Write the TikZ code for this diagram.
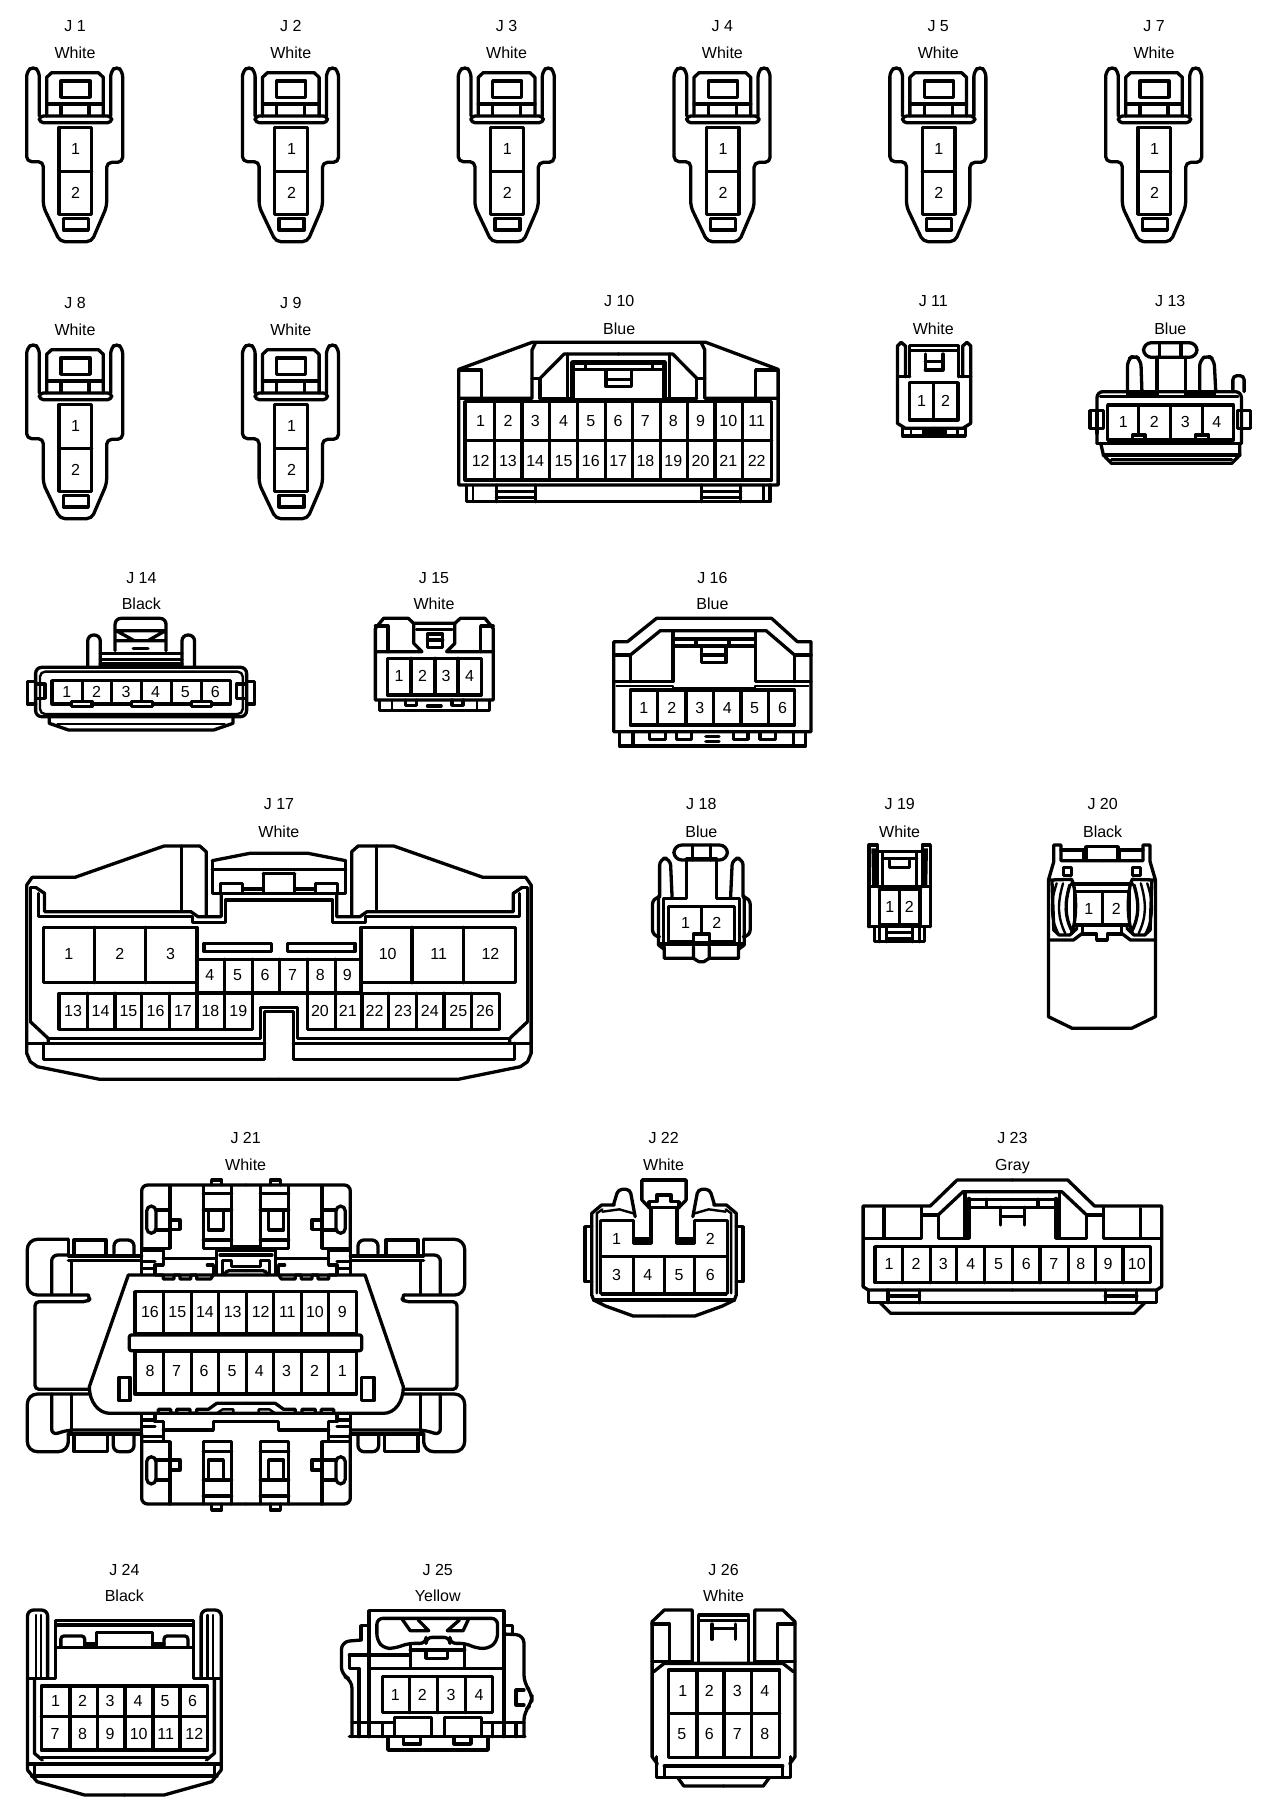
\documentclass[tikz,border=0pt]{standalone}
\usepackage{fontspec}
\setmainfont{Liberation Sans}
\newcommand{\lblfont}{\fontsize{16}{18}\selectfont}
\tikzset{
  ln/.style={draw=black,line width=3.3pt,line join=round,line cap=round},
  th/.style={draw=black,line width=2.4pt,line join=round,line cap=round},
  hv/.style={draw=black,line width=4.5pt,line join=round},
  txt/.style={font=\lblfont,inner sep=0pt,text=black,text height=11.5pt,text depth=0pt},
  zoomed/.style n args={3}{shift={(#1,#2)},xscale=#3,yscale=0.33333}
}
% pin rectangle with vertical dividers
\newcommand{\pbox}[5]{\draw[ln] (#1,#2) rectangle (#3,#4);
  \foreach \vx in {#5}{\draw[ln] (\vx,#2) -- (\vx,#4);}}
% pin number nodes
\newcommand{\pins}[3]{\foreach \px/\pl in {#3}{\node[txt] (#1p\pl) at (\px,#2) {\pl};}}
% title and colour
\newcommand{\ttl}[6]{\node[txt] (#1t) at (#4,#5) {#2};\node[txt] (#1c) at (#4,#6) {#3};}
% draw content, then its mirror image around x=#1/2
\newcommand{\mir}[2]{#2\begin{scope}[shift={(#1,0)},xscale=-1]#2\end{scope}}
% the repeated two-way connector
\newcommand{\twoway}[4]{\begin{scope}[zoomed={#3}{#4}{0.33333}]
  \ttl{#1}{#2}{White}{225}{78}{157}
  \draw[ln,rounded corners=5pt] (118,348) -- (118,215) -- (100,198) -- (80,215) -- (80,485) -- (130,485) -- (130,620) -- (180,725) -- (275,725) -- (320,620) -- (320,487) -- (368,487) -- (368,215) -- (350,198) -- (332,215) -- (332,348);
  \draw[ln,rounded corners=4pt] (118,348) rectangle (335,368);
  \draw[ln] (140,348) -- (140,232) -- (155,218) -- (295,218) -- (310,232) -- (310,348);
  \draw[ln] (183,243) rectangle (270,292);
  \draw[ln] (140,312) -- (310,312) (183,312) -- (183,345) (267,312) -- (267,345);
  \draw[ln] (177,382) rectangle (275,643) (177,515) -- (275,515);
  \draw[ln] (190,655) rectangle (265,690);
  \node[txt] (#1p1) at (227,447) {1};
  \node[txt] (#1p2) at (227,578) {2};
\end{scope}}
\begin{document}
\begin{tikzpicture}[x=1pt,y=-1pt]
\useasboundingbox[fill=white] (0,0) rectangle (1280,1816);
\twoway{J1}{J 1}{0}{0}
\twoway{J2}{J 2}{215.8}{0}
\twoway{J3}{J 3}{431.6}{0}
\twoway{J4}{J 4}{647.4}{0}
\twoway{J5}{J 5}{863.2}{0}
\twoway{J7}{J 7}{1079}{0}
\twoway{J8}{J 8}{0}{277}
\twoway{J9}{J 9}{215.8}{277}
% ---- J10, J11, J13
\begin{scope}[zoomed={440}{280}{0.535}]
  \ttl{J10}{J 10}{Blue}{335}{62}{147}
  \draw[ln] (35,268) -- (172,187) -- (497,187) -- (632,268) -- (632,615) -- (35,615) -- cycle;
  \mir{667}{
    \draw[ln] (35,355) -- (172,355) -- (172,210) -- (178,190);
    \draw[ln] (187,355) -- (250,355);
    \draw[ln] (35,270) -- (77,270) -- (77,355);
    \draw[ln] (187,355) -- (187,295) -- (172,295);
    \draw[ln] (187,295) -- (232,222) -- (334,222);
    \draw[ln] (238,222) -- (238,350);
    \draw[ln] (50,615) -- (50,665) -- (334,665);
    \draw[th] (62,615) -- (62,665);
    \draw[ln] (105,615) -- (105,665) (178,615) -- (178,665);
    \draw[ln] (105,635) -- (178,635) (105,652) -- (178,652);
  }
  \draw[hv] (248,248) rectangle (420,360);
  \draw[ln] (248,268) -- (420,268) (272,248) -- (272,268) (397,248) -- (397,268);
  \draw[ln] (310,270) -- (310,320) -- (358,320) -- (358,270) (310,298) -- (358,298);
  \pbox{47}{365}{620}{600}{102,153,205,257,309,360,412,463,514,565}
  \draw[ln] (47,482) -- (620,482);
  \pins{J10}{423}{76/1,127/2,178/3,231/4,282/5,333/6,384/7,436/8,487/9,539/10,592/11}
  \pins{J10}{542}{76/12,127/13,178/14,231/15,282/16,333/17,384/18,436/19,487/20,539/21,592/22}
  %
  \ttl{J11}{J 11}{White}{922}{62}{147}
  \mir{1847}{
    \draw[ln] (855,430) -- (855,198) -- (862,187) -- (870,198) -- (870,290);
    \draw[ln] (855,290) -- (878,290);
    \draw[ln] (878,197) -- (924,197) (878,197) -- (878,290);
    \draw[th] (878,212) -- (924,212);
    \draw[ln] (855,430) -- (870,445) -- (924,445);
    \draw[ln] (865,445) -- (865,468) -- (924,468);
    \draw[th] (880,445) -- (880,468);
    \draw[hv] (900,456) -- (924,456);
  }
  \draw[ln] (907,222) -- (907,270) (940,222) -- (940,270) (907,245) -- (940,245) (907,270) -- (940,270);
  \pbox{878}{308}{968}{420}{922}
  \pins{J11}{362}{900/1,945/2}
  %
  \ttl{J13}{J 13}{Blue}{1365}{62}{147}
  \draw[ln,rounded corners=6pt] (1228,490) -- (1228,335) -- (1498,335) -- (1498,490);
  \draw[ln] (1228,490) -- (1498,490);
  \draw[th] (1234,350) -- (1492,350);
  \draw[ln,rounded corners=6pt] (1285,335) -- (1285,240) -- (1297,225) -- (1310,240) -- (1312,335);
  \draw[ln,rounded corners=6pt] (1420,335) -- (1420,240) -- (1435,225) -- (1447,240) -- (1450,335);
  \draw[ln,rounded corners=8pt] (1315,188) rectangle (1415,232);
  \draw[ln] (1345,188) -- (1345,232) (1385,188) -- (1385,232);
  \draw[ln] (1340,232) -- (1340,345) (1393,232) -- (1393,345);
  \draw[hv] (1282,345) -- (1338,345) (1395,345) -- (1450,345);
  \draw[ln,rounded corners=4pt] (1482,335) -- (1482,287) -- (1503,287) -- (1503,335);
  \draw[ln] (1215,392) rectangle (1240,445) (1490,392) rectangle (1515,445);
  \draw[ln] (1228,392) -- (1228,460) (1498,392) -- (1498,460);
  \pbox{1248}{375}{1483}{480}{1306,1366,1425}
  \draw[ln,fill=white] (1295,465) rectangle (1318,480) (1412,465) rectangle (1437,480);
  \pins{J13}{425}{1277/1,1335/2,1393/3,1452/4}
  \draw[ln] (1235,490) -- (1240,525) -- (1255,550) -- (1480,550) -- (1495,525) -- (1495,490);
  \draw[ln] (1240,525) -- (1495,525);
  \draw[th] (1255,538) -- (1480,538);
\end{scope}
% ---- J14, J15, J16
\begin{scope}[zoomed={0}{560}{0.548}]
  \ttl{J14}{J 14}{Black}{258}{52}{132}
  \draw[ln,rounded corners=6pt] (65,322) rectangle (450,470);
  \draw[th,rounded corners=5pt] (73,335) rectangle (443,462);
  \pbox{95}{362}{420}{432}{150,204,258,313,368}
  \pins{J14}{395}{122/1,176/2,230/3,284/4,338/5,393/6}
  \draw[ln,fill=white] (130,424) rectangle (168,440) (240,424) rectangle (278,440) (350,424) rectangle (386,440);
  \draw[ln] (65,365) -- (50,365) -- (50,432) -- (65,432) (65,372) rectangle (82,415);
  \draw[ln] (450,365) -- (465,365) -- (465,432) -- (450,432) (432,372) rectangle (450,415);
  \draw[ln] (90,470) -- (90,490) -- (125,510) -- (390,510) -- (425,490) -- (425,470);
  \draw[th] (105,492) -- (410,492);
  \draw[ln,rounded corners=6pt] (160,322) -- (160,225) -- (183,225) -- (183,322);
  \draw[ln,rounded corners=6pt] (332,322) -- (332,225) -- (355,225) -- (355,322);
  \draw[ln,rounded corners=6pt] (210,272) -- (210,175) -- (303,175) -- (303,272);
  \draw[ln] (212,212) -- (302,212) (212,212) -- (245,242) (302,212) -- (270,242) (212,242) -- (302,242);
  \draw[ln] (243,265) -- (270,265);
  \draw[ln] (183,280) -- (332,280);
  \draw[ln] (183,298) -- (332,298);
  \draw[ln] (183,312) -- (332,312);
  %
  \ttl{J15}{J 15}{White}{792}{52}{132}
  \draw[ln] (685,420) -- (685,205) -- (700,175) -- (745,175) -- (755,190) -- (830,190) -- (840,175) -- (885,175) -- (900,205) -- (900,420) -- cycle;
  \mir{1585}{
    \draw[ln] (685,198) -- (708,198) -- (708,275);
    \draw[ln] (685,275) -- (770,275) -- (755,250) -- (755,190);
    \draw[th] (715,420) -- (715,452);
  }
  \draw[ln] (760,208) -- (825,208);
  \draw[ln] (780,222) rectangle (808,262) (780,240) -- (808,240);
  \pbox{707}{295}{878}{405}{750,794,836}
  \pins{J15}{347}{728/1,771/2,814/3,857/4}
  \draw[ln] (693,420) -- (693,452) -- (893,452) -- (893,420);
  \draw[ln] (740,420) -- (740,436) -- (760,436) -- (760,420) (825,420) -- (825,436) -- (845,436) -- (845,420);
  \draw[ln] (780,438) -- (805,438);
  %
  \ttl{J16}{J 16}{Blue}{1300}{52}{132}
  \draw[ln] (1120,515) -- (1120,245) -- (1145,245) -- (1198,175) -- (1408,175) -- (1455,245) -- (1480,245) -- (1480,515) -- cycle;
  \draw[ln] (1148,288) -- (1205,212) -- (1398,212) -- (1452,288);
  \draw[ln] (1120,285) -- (1150,285) -- (1150,365) (1480,285) -- (1450,285) -- (1450,365);
  \draw[ln] (1120,365) -- (1228,365) -- (1228,212) (1480,365) -- (1378,365) -- (1378,212);
  \draw[th] (1125,378) -- (1228,378) -- (1228,385) -- (1378,385) -- (1378,378) -- (1475,378);
  \draw[ln] (1228,237) rectangle (1378,258);
  \draw[ln] (1270,237) -- (1270,258) (1330,237) -- (1330,258);
  \draw[ln] (1280,258) -- (1280,308) -- (1325,308) -- (1325,258) (1280,285) -- (1325,285);
  \pbox{1150}{390}{1450}{495}{1200,1252,1302,1352,1402}
  \pins{J16}{442}{1175/1,1226/2,1277/3,1327/4,1377/5,1428/6}
  \draw[ln] (1130,515) -- (1130,558) -- (1470,558) -- (1470,515);
  \draw[ln] (1155,515) -- (1155,558) (1448,515) -- (1448,558);
  \draw[ln] (1185,515) -- (1185,538) -- (1215,538) -- (1215,515) (1235,515) -- (1235,538) -- (1262,538) -- (1262,515) (1338,515) -- (1338,538) -- (1365,538) -- (1365,515) (1387,515) -- (1387,538) -- (1415,538) -- (1415,515);
  \draw[ln] (1288,530) -- (1312,530) (1288,545) -- (1312,545);
\end{scope}
% ---- J17
\begin{scope}[zoomed={0}{790}{0.3567}]
  \ttl{J17}{J 17}{White}{782}{40}{124}
  \mir{1564}{
    \draw[ln] (782,868) -- (280,868) -- (105,830) -- (85,815) -- (75,790) -- (75,285) -- (90,262) -- (210,262) -- (460,168) -- (560,168) -- (578,185) -- (578,378);
    \draw[ln] (508,168) -- (508,362);
    \draw[ln] (100,292) -- (125,310) -- (125,365) -- (535,365) -- (555,380) -- (620,380) -- (620,312);
    \draw[ln] (85,695) -- (85,292) -- (100,292);
    \draw[ln] (108,310) -- (108,380) -- (540,380) -- (540,398) -- (632,398) -- (632,330) -- (782,330);
    \draw[ln] (595,212) -- (700,190) -- (782,190);
    \draw[ln] (595,212) -- (595,310) -- (782,310);
    \draw[ln] (595,238) -- (782,238);
    \draw[ln] (738,250) -- (738,305) (738,250) -- (782,250);
    \draw[ln] (618,310) -- (618,280) -- (680,280) -- (680,305) (680,297) -- (738,297);
    \draw[ln] (85,695) -- (135,745) -- (135,760);
    \draw[ln] (135,745) -- (730,745) -- (730,652) -- (782,652);
    \draw[ln] (75,760) -- (742,760);
    \draw[ln] (742,665) -- (782,665) (742,665) -- (742,808) -- (122,808) -- (122,760);
  }
  \pbox{122}{412}{552}{578}{265,408}
  \pbox{1012}{412}{1445}{578}{1155,1300}
  \pins{J17}{492}{193/1,336/2,478/3,1087/10,1230/11,1375/12}
  \draw[ln] (572,460) rectangle (762,485) (805,460) rectangle (995,485);
  \pbox{552}{508}{1012}{608}{630,708,783,862,940}
  \pins{J17}{555}{588/4,666/5,743/6,820/7,898/8,974/9}
  \pbox{165}{610}{708}{718}{245,322,397,476,552,630}
  \pbox{862}{610}{1400}{718}{940,1015,1090,1168,1245,1322}
  \draw[ln] (708,610) -- (862,610);
  \pins{J17}{662}{205/13,282/14,360/15,436/16,513/17,590/18,668/19,897/20,975/21,1050/22,1130/23,1205/24,1285/25,1360/26}
\end{scope}
% ---- J18, J19, J20
\begin{scope}[zoomed={640}{790}{0.3567}]
  \ttl{J18}{J 18}{Blue}{172}{40}{124}
  \mir{344}{
    \draw[ln] (130,208) -- (130,325) -- (65,325) -- (65,470);
    \draw[ln,rounded corners=7pt] (90,322) -- (85,205) -- (55,205) -- (55,320);
    \draw[ln,rounded corners=7pt] (52,322) -- (35,322) -- (35,440) -- (52,440);
    \draw[ln] (52,318) -- (52,465) -- (68,478);
    \draw[ln] (68,470) -- (68,505) -- (150,505) (150,470) -- (150,505) -- (165,515) -- (172,515);
    \draw[ln] (52,462) -- (172,462);
  }
  \draw[ln,rounded corners=8pt] (95,165) rectangle (245,210);
  \draw[ln] (148,165) -- (148,210) (198,165) -- (198,210) (130,205) -- (215,205);
  \pbox{80}{350}{265}{455}{173}
  \pins{J18}{398}{128/1,215/2}
  \draw[ln,fill=white] (150,432) rectangle (195,458);
  %
  \ttl{J19}{J 19}{White}{728}{40}{124}
  \mir{1456}{
    \draw[ln] (642,410) -- (642,165) -- (665,165) -- (665,290);
    \draw[hv] (655,175) -- (657,290);
    \draw[ln] (642,290) -- (728,290);
    \draw[ln] (642,410) -- (728,410);
    \draw[ln] (665,185) -- (728,185) (680,205) -- (728,205) (680,185) -- (680,290);
    \draw[ln] (658,410) -- (658,455) -- (728,455);
    \draw[ln] (672,410) -- (672,455) (692,410) -- (692,455);
    \draw[ln] (692,428) -- (728,428) (692,445) -- (728,445);
  }
  \draw[ln] (700,212) -- (700,232) -- (755,232) -- (755,212);
  \pbox{672}{297}{785}{405}{728}
  \pins{J19}{350}{700/1,755/2}
  %
  \ttl{J20}{J 20}{Black}{1297}{40}{124}
  \mir{2590}{
    \draw[ln] (1295,715) -- (1212,715) -- (1145,680) -- (1145,270) -- (1160,215) -- (1160,165) -- (1180,165) -- (1180,212) -- (1295,212);
    \draw[ln] (1180,180) -- (1245,180) -- (1245,210);
    \draw[ln] (1250,210) -- (1250,170) -- (1295,170);
    \draw[ln] (1187,232) rectangle (1210,257);
    \draw[ln] (1210,282) -- (1295,282);
    \draw[ln] (1150,270) -- (1210,268) .. controls (1225,300) and (1225,390) .. (1210,430);
    \draw[th] (1168,280) .. controls (1150,340) and (1150,380) .. (1172,430);
    \draw[th] (1186,280) .. controls (1170,340) and (1170,380) .. (1192,430);
    \draw[ln] (1205,285) .. controls (1190,340) and (1190,380) .. (1212,425);
    \draw[ln] (1155,275) -- (1160,420) -- (1175,435) -- (1205,435) -- (1225,415);
    \draw[ln] (1145,450) -- (1215,450) -- (1240,430);
    \draw[ln] (1240,412) -- (1240,432) -- (1280,432) -- (1280,450) -- (1295,450);
  }
  \pbox{1218}{305}{1372}{405}{1296}
  \pins{J20}{355}{1258/1,1335/2}
\end{scope}
% ---- J21
\begin{scope}[zoomed={0}{1130}{0.33333}]
  \ttl{J21}{J 21}{White}{737}{22}{104}
  \mir{1476}{
    % top module
    \draw[ln,rounded corners=6pt] (738,165) -- (425,165) -- (425,355);
    \draw[ln] (425,355) -- (510,355) -- (510,168);
    \draw[ln,rounded corners=5pt] (440,228) rectangle (468,310);
    \draw[ln] (468,240) -- (510,240) (468,300) -- (510,300);
    \draw[ln] (510,270) -- (540,270) -- (540,298) -- (510,298);
    \draw[ln] (610,168) -- (610,355) -- (695,355) -- (695,168);
    \draw[ln] (610,190) -- (695,190) (610,240) -- (695,240) (610,330) -- (695,330);
    \draw[ln] (625,240) -- (625,300) -- (670,300) -- (670,240);
    \draw[ln] (635,165) -- (635,150) -- (665,150) -- (665,165);
    \draw[ln] (695,350) -- (738,350);
    % joins
    \draw[ln] (425,355) -- (425,435);
    \draw[ln] (430,362) -- (490,362) -- (490,405) -- (465,405) -- (465,435);
    \draw[ln] (428,395) -- (465,395) (428,415) -- (465,415);
    \draw[ln] (490,385) -- (650,385) -- (650,360) -- (738,360);
    \draw[ln] (650,385) -- (650,432);
    \draw[ln] (660,375) -- (738,375);
    \draw[ln] (668,432) -- (668,392) -- (695,392) -- (695,410) -- (738,410);
    \draw[ln] (622,405) -- (640,405) -- (640,432);
    % upper wing
    \draw[ln,rounded corners=10pt] (205,328) -- (82,328) -- (82,495) -- (265,495);
    \draw[ln,rounded corners=4pt] (265,495) -- (272,505) -- (262,515) -- (105,515) -- (105,778) -- (268,778);
    \draw[ln,rounded corners=6pt] (155,490) -- (155,375) -- (205,375);
    \draw[ln] (205,328) -- (205,378) -- (425,378);
    \draw[ln] (205,392) -- (425,392);
    \draw[ln] (215,392) -- (215,490);
    \draw[ln] (222,370) -- (222,330) -- (318,330) -- (318,370);
    \draw[ln,rounded corners=6pt] (342,370) -- (342,330) -- (402,330) -- (402,372);
    % lower wing
    \draw[ln,rounded corners=10pt] (268,792) -- (82,792) -- (82,965) -- (205,965) -- (205,912);
    \draw[ln] (222,915) -- (222,965) -- (322,965) -- (322,915);
    \draw[ln,rounded corners=6pt] (340,915) -- (340,965) -- (402,965) -- (402,915);
    \draw[ln,rounded corners=6pt] (155,792) -- (155,915) -- (205,900) -- (425,900);
    \draw[ln] (205,912) -- (425,912);
    \draw[ln] (215,792) -- (215,900);
    % bottom module
    \draw[ln,rounded corners=6pt] (425,915) -- (425,1122) -- (738,1122);
    \draw[ln] (425,935) -- (510,935) -- (510,1122);
    \draw[ln,rounded corners=5pt] (440,980) rectangle (468,1062);
    \draw[ln] (468,990) -- (510,990) (468,1050) -- (510,1050);
    \draw[ln] (510,990) -- (540,990) -- (540,1020) -- (510,1020);
    \draw[ln] (610,1122) -- (610,935) -- (695,935) -- (695,1122);
    \draw[ln] (610,965) -- (695,965) (610,1050) -- (695,1050) (610,1098) -- (695,1098);
    \draw[ln] (625,1050) -- (625,990) -- (670,990) -- (670,1050);
    \draw[ln] (635,1122) -- (635,1140) -- (665,1140) -- (665,1122);
    % bottom joins
    \draw[ln] (425,850) -- (425,915);
    \draw[ln] (490,875) -- (490,930) (428,920) -- (490,920);
    \draw[ln] (465,850) -- (465,875) -- (490,875);
    \draw[ln] (428,870) -- (465,870) (428,890) -- (465,890);
    \draw[ln] (490,900) -- (640,900) -- (640,875) -- (738,875);
  }
  \draw[ln,fill=white] (385,435) -- (1095,435) -- (1210,770) .. controls (1210,815) and (1185,850) .. (1150,850) -- (330,850) .. controls (295,850) and (268,815) .. (268,770) -- cycle;
  \mir{1476}{
    \draw[ln] (465,435) -- (490,435) -- (490,447) -- (522,447) -- (522,435) -- (540,435) -- (540,447) -- (572,447) -- (572,435) -- (590,435) -- (590,447) -- (632,447) -- (640,435);
    \draw[ln] (475,850) -- (475,838) -- (512,838) -- (512,850) -- (530,850) -- (530,838) -- (570,838) -- (570,850) -- (590,850) -- (590,838) -- (625,838) -- (650,820) -- (738,820);
    \draw[ln,rounded corners=4pt] (675,435) -- (675,422) -- (738,422);
    \draw[th] (650,850) -- (668,838) -- (700,838) -- (700,850) -- (738,850);
  }
  \pbox{405}{485}{1070}{612}{490,575,655,740,820,905,985}
  \pins{J21}{545}{450/16,532/15,615/14,698/13,782/12,862/11,945/10,1027/9}
  \draw[ln,rounded corners=2pt] (388,615) rectangle (1085,662);
  \pbox{405}{665}{1070}{792}{490,575,655,740,820,905,985}
  \pins{J21}{722}{450/8,530/7,612/6,696/5,778/4,860/3,944/2,1027/1}
  \draw[ln] (357,742) rectangle (390,812) (1085,742) rectangle (1122,812);
\end{scope}
% ---- J22, J23
\begin{scope}[zoomed={570}{1130}{0.395}]
  \ttl{J22}{J 22}{White}{237}{22}{104}
  \mir{476}{
    \draw[ln] (238,558) -- (160,558) -- (90,528) -- (60,510) -- (55,495) -- (55,250) -- (80,225) -- (112,225);
    \draw[th] (68,490) -- (68,250) -- (82,238);
    \draw[ln] (55,290) -- (38,290) -- (38,455) -- (55,455);
    \draw[ln,rounded corners=4pt] (110,225) -- (122,178) -- (152,178) -- (165,260);
    \draw[th] (82,245) -- (125,238) -- (160,250);
    \draw[hv] (182,150) -- (238,150);
    \draw[ln] (182,150) -- (182,210) -- (205,238);
    \draw[ln] (200,232) -- (200,215) -- (220,215) -- (220,195) -- (238,195);
    \draw[ln] (200,232) -- (238,232);
    \draw[ln] (160,272) -- (160,340) -- (205,340) -- (205,235);
    \draw[hv] (165,328) -- (205,328);
    \draw[ln] (80,272) -- (160,272);
    \draw[ln] (78,272) -- (78,490);
    \draw[ln] (60,510) -- (238,510);
    \draw[ln] (160,380) -- (160,490);
  }
  \draw[ln] (78,380) -- (398,380) (240,380) -- (240,490);
  \draw[hv] (78,492) -- (398,492);
  \pins{J22}{325}{118/1,355/2}
  \pins{J22}{433}{118/3,197/4,276/5,355/6}
  %
  \ttl{J23}{J 23}{Gray}{1120}{22}{104}
  \mir{2240}{
    \draw[ln] (1120,480) -- (755,480) -- (742,470) -- (742,228) -- (912,228) -- (980,150) -- (1120,150);
    \draw[ln] (795,235) -- (795,325);
    \draw[ln] (745,325) -- (890,325) -- (890,230);
    \draw[ln] (892,255) -- (930,255);
    \draw[ln] (932,255) -- (995,185) -- (1120,185);
    \draw[ln] (932,255) -- (932,325) -- (1010,325) -- (1010,205);
    \draw[ln] (1000,190) -- (1000,325);
    \draw[ln] (1010,208) -- (1120,208) (1010,232) -- (1120,232);
    \draw[ln] (1055,208) -- (1055,232);
    \draw[ln] (1090,232) -- (1090,285);
    \draw[ln] (755,480) -- (755,518) -- (1120,518);
    \draw[ln] (805,480) -- (805,518) (885,480) -- (885,518) (805,498) -- (885,498);
    \draw[ln] (785,518) -- (812,550) -- (1120,550);
  }
  \draw[ln] (1090,260) -- (1150,260);
  \pbox{772}{350}{1470}{458}{842,912,978,1050,1120,1190,1262,1330,1400}
  \pins{J23}{400}{808/1,876/2,945/3,1015/4,1085/5,1155/6,1225/7,1293/8,1362/9,1435/10}
\end{scope}
% ---- J24, J25, J26
\begin{scope}[zoomed={0}{1560}{0.5293}]
  \ttl{J24}{J 24}{Black}{235}{28}{108}
  \mir{470}{
    \draw[ln,rounded corners=6pt] (90,355) -- (90,150) -- (52,150) -- (52,630);
    \draw[ln] (52,630) -- (70,665) -- (160,705) -- (235,705);
    \draw[th] (68,165) -- (68,352) (78,165) -- (78,352);
    \draw[ln] (55,355) -- (105,355) -- (105,262) -- (235,262);
    \draw[ln] (105,182) -- (235,182) (105,195) -- (235,195) (105,182) -- (105,262);
    \draw[ln,rounded corners=3pt] (115,258) -- (115,228) -- (160,228) -- (160,258);
    \draw[ln] (160,252) -- (182,252) (182,258) -- (182,218) -- (235,218);
    \draw[ln] (65,360) -- (65,580) -- (80,600);
    \draw[ln] (52,612) -- (235,612) (60,648) -- (235,648) (65,612) -- (65,648);
    \draw[ln] (78,592) -- (235,592);
  }
  \pbox{78}{378}{392}{570}{132,184,236,289,340}
  \draw[ln] (78,470) -- (392,470);
  \pins{J24}{423}{105/1,156/2,208/3,261/4,312/5,364/6}
  \pins{J24}{520}{104/7,156/8,208/9,262/10,313/11,367/12}
  %
  \ttl{J25}{J 25}{Yellow}{827}{28}{108}
  \draw[ln] (697,325) -- (697,152) -- (952,152) -- (952,530);
  \draw[ln,rounded corners=6pt] (725,265) -- (712,240) -- (712,175) -- (940,175) -- (940,240) -- (925,265) -- (900,265) -- (880,250) -- (850,250) -- (850,232) -- (805,232) -- (805,250) -- (772,250) -- (745,265) -- cycle;
  \draw[ln] (760,178) -- (775,212) -- (810,212) (790,180) -- (810,212);
  \draw[ln] (885,178) -- (875,212) -- (845,212) (868,180) -- (845,212);
  \draw[ln] (775,252) -- (775,325) (878,252) -- (878,325) (775,270) -- (878,270);
  \draw[ln] (805,270) -- (805,295) -- (845,295) -- (845,270);
  \draw[ln] (697,197) -- (682,197) -- (682,240);
  \draw[ln,rounded corners=8pt] (682,240) -- (645,245) -- (645,345) -- (665,360) -- (665,530);
  \draw[ln] (660,285) -- (775,285) (660,285) -- (660,325) -- (678,325) -- (678,530);
  \draw[ln] (697,325) -- (952,325) (697,325) -- (697,488);
  \draw[ln] (665,488) -- (745,488) (910,488) -- (990,488);
  \draw[ln] (952,197) -- (968,197) -- (968,222);
  \draw[ln,rounded corners=8pt] (952,222) -- (990,225) -- (990,370) -- (1005,400) -- (1005,430) -- (990,455) -- (990,530);
  \draw[ln] (975,390) -- (975,435) (975,390) -- (990,390) (975,435) -- (990,435) (975,488) -- (975,530);
  \draw[ln] (660,530) -- (992,530);
  \pbox{722}{350}{930}{458}{773,827,880}
  \pins{J25}{405}{747/1,798/2,852/3,905/4}
  \draw[ln] (745,472) rectangle (815,530) (840,472) rectangle (910,530);
  \draw[ln] (697,488) -- (697,530) (722,488) -- (722,530) (930,488) -- (930,530);
  \draw[ln] (733,530) -- (733,570) -- (922,570) -- (922,530);
  \draw[ln] (762,530) -- (762,552) -- (795,552) -- (795,530) (858,530) -- (858,552) -- (890,552) -- (890,530);
  %
  \ttl{J26}{J 26}{White}{1367}{28}{108}
  \mir{2734}{
    \draw[ln] (1308,305) -- (1308,150) -- (1255,150) -- (1232,185) -- (1232,590) -- (1242,612);
    \draw[ln] (1232,192) -- (1265,192) -- (1265,302);
    \draw[ln] (1232,305) -- (1308,305);
    \draw[ln] (1320,305) -- (1320,165) -- (1367,165) (1320,182) -- (1367,182);
    \draw[ln] (1235,335) -- (1255,310) -- (1367,310);
    \draw[ln] (1240,590) -- (1240,652) -- (1367,652);
    \draw[ln] (1255,618) -- (1367,618) (1255,618) -- (1255,652);
    \draw[ln] (1280,652) -- (1292,678) -- (1367,678);
    \draw[ln] (1345,192) -- (1345,238);
  }
  \draw[ln] (1345,205) -- (1390,205);
  \pbox{1263}{330}{1473}{592}{1317,1368,1420}
  \draw[ln] (1263,460) -- (1473,460);
  \pins{J26}{392}{1290/1,1340/2,1393/3,1445/4}
  \pins{J26}{520}{1288/5,1340/6,1393/7,1445/8}
\end{scope}
\end{tikzpicture}
\end{document}
